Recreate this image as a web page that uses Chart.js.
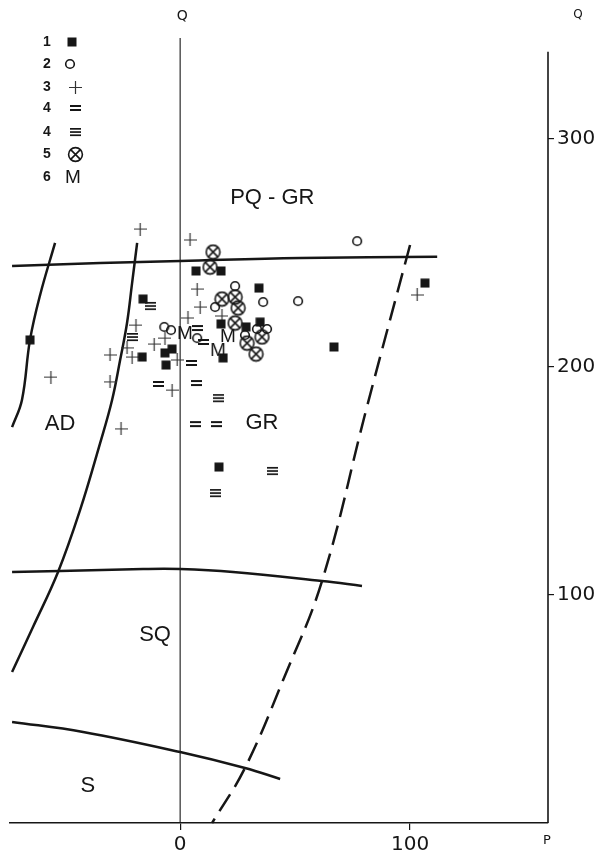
<!DOCTYPE html>
<html><head><meta charset="utf-8">
<script src="https://cdn.jsdelivr.net/npm/chart.js@4.4.1/dist/chart.umd.min.js"></script>
<style>html,body{margin:0;padding:0;background:#fff}#c{display:block}</style>
</head><body>
<canvas id="c" width="613" height="863"></canvas>
<script>
// ---- tick labels ----
const xTicks = [0, 100];
const yTicks = [100, 200, 300];

// ---- sample groups [P, Q] ----
const g1Square = [[-65.3,211.7],[-16.1,229.6],[-16.5,204.2],[-6.6,206.0],[-3.5,207.7],[-6.1,200.7],[6.9,241.9],[17.8,241.9],[34.3,234.4],[17.8,218.7],[28.7,217.4],[34.8,219.5],[18.7,203.8],[66.9,208.6],[106.5,236.6],[16.9,156.0]];
const g2Circle = [[77.0,255.0],[23.9,235.3],[36.1,228.3],[51.3,228.7],[15.2,226.1],[-6.9,217.4],[-4.0,216.0],[7.4,212.5],[33.4,216.5],[37.8,216.5],[28.2,213.8]];
const g3Plus = [[-17.4,260.3],[4.3,255.5],[7.4,234.0],[8.7,226.1],[3.4,221.3],[-19.2,218.2],[-6.6,212.5],[-11.3,209.9],[-23.1,208.2],[-30.5,205.1],[-20.9,204.2],[-1.3,202.9],[-56.2,195.4],[-30.5,193.3],[-3.5,189.7],[-25.7,172.7],[18.2,222.2],[103.1,231.4]];
const g4Double = [[7.4,216.9],[10.0,210.8],[4.8,201.6],[-9.2,192.4],[6.9,192.8],[6.5,174.8],[15.9,174.8]];
const g4Triple = [[-13.1,226.6],[-20.9,213.0],[16.5,186.2],[40.0,154.3],[15.2,144.6]];
const g5OTimes = [[14.3,250.2],[13.0,243.6],[18.2,229.6],[23.9,230.5],[25.2,225.7],[23.9,219.1],[35.6,213.0],[29.1,210.3],[33.0,205.5]];
const g6M = [[2.1,214.7],[20.8,213.4],[16.5,207.3]];

// ---- boundary curves [P, Q] ----
const curveTop = [[-73.1,244.1],[-34.8,245.4],[0,246.3],[52.2,247.6],[111.8,248.1]];
const curveLeft = [[-54.4,254.2],[-60.9,231.4],[-65.3,211.7],[-68.8,185.4],[-73.1,173.5]];
const curveMid = [[-18.7,254.2],[-20.9,236.6],[-23.1,219.1],[-26.1,202.9],[-29.6,185.4],[-34.8,166.5],[-43.5,137.2],[-53.1,110.0],[-64.0,85.9],[-73.1,66.2]];
const curveH2 = [[-73.1,110.0],[-52.2,110.4],[-16.1,111.3],[0,111.3],[23.0,110.0],[61.7,106.0],[79.1,103.9]];
const curveH3 = [[-73.1,44.3],[-42.2,39.9],[0,31.1],[28.2,24.1],[43.5,19.3]];
const curveDash = [[100.0,253.3],[80.9,181.0],[61.7,106.0],[44.8,62.7],[28.2,24.1],[13.9,0]];
const lineP0 = [[0,0],[0,344]];
const lineRight = [[160,0],[160,338]];

// ---- region labels [text, P, Q] ----
const regionLabels = [["PQ - GR",40.1,273.9],["AD",-52.2,174.8],["GR",35.6,175.2],["SQ",-10.9,82.4],["S",-40.1,16.2]];
const legendNums = ["1","2","3","4","4","5","6"];

const INK = '#161616';
function mk(w,h,draw){const c=document.createElement('canvas');c.width=w;c.height=h;const g=c.getContext('2d');g.fillStyle=INK;g.strokeStyle=INK;draw(g);return c;}
const imgSq = mk(10,10,g=>{g.fillRect(0.5,0.5,9,9);});
const imgCirc = mk(12,12,g=>{g.lineWidth=1.6;g.beginPath();g.arc(6,6,4.3,0,Math.PI*2);g.stroke();});
const imgPlus = mk(13,13,g=>{g.strokeStyle='#333';g.lineWidth=1.2;g.beginPath();g.moveTo(0,6.5);g.lineTo(13,6.5);g.moveTo(6.5,0);g.lineTo(6.5,13);g.stroke();});
const imgEq = mk(11,8,g=>{g.fillRect(0,1,11,2);g.fillRect(0,5,11,2);});
const imgTri = mk(11,10,g=>{g.fillRect(0,1,11,1.7);g.fillRect(0,4.2,11,1.7);g.fillRect(0,7.4,11,1.7);});
const imgOT = mk(17,17,g=>{g.lineWidth=1.6;g.beginPath();g.arc(8.5,8.5,6.9,0,Math.PI*2);g.stroke();g.beginPath();const d=4.6;g.moveTo(8.5-d,8.5-d);g.lineTo(8.5+d,8.5+d);g.moveTo(8.5+d,8.5-d);g.lineTo(8.5-d,8.5+d);g.stroke();});
const imgM = mk(20,18,g=>{g.font='19px "Liberation Sans", Arial, sans-serif';g.textAlign='center';g.textBaseline='middle';g.fillText('M',10,9.5);});
const legendImgs = [imgSq,imgCirc,imgPlus,imgEq,imgTri,imgOT,imgM];
const legendX = [72,70,75,75,75,75,73];
const legendY = [42,64,87,108,132,154,177];

const pts = a => a.map(p=>({x:p[0],y:p[1]}));
function markers(data,img){return {data:pts(data),pointStyle:img,pointRadius:5,pointHoverRadius:5,showLine:false};}
function curve(data,w,dash){return {data:pts(data),showLine:true,pointRadius:0,borderColor:INK,borderWidth:w,tension:0.4,borderDash:dash||[],fill:false,clip:false};}

const textPlugin = {
  id:'texts',
  afterDatasetsDraw(chart){
    const ctx=chart.ctx, xs=chart.scales.x, ys=chart.scales.y;
    ctx.save();
    ctx.fillStyle=INK;ctx.textAlign='center';ctx.textBaseline='middle';
    ctx.font='22px "Liberation Sans", Arial, sans-serif';
    regionLabels.forEach(r=>{ctx.fillText(r[0],xs.getPixelForValue(r[1]),ys.getPixelForValue(r[2]));});
    ctx.font='bold 14px "Liberation Sans", Arial, sans-serif';
    legendNums.forEach((n,i)=>{ctx.fillText(n,47,legendY[i]);});
    legendImgs.forEach((im,i)=>{ctx.drawImage(im,Math.round(legendX[i]-im.width/2),Math.round(legendY[i]-im.height/2));});
    ctx.font='14px "DejaVu Sans", sans-serif';
    ctx.fillText('Q',xs.getPixelForValue(0)+2,16);
    ctx.font='12px "DejaVu Sans", sans-serif';
    ctx.fillText('Q',578,15);
    ctx.font='13px "DejaVu Sans", sans-serif';
    ctx.fillText('P',547,841);
    ctx.restore();
  }
};

new Chart(document.getElementById('c'),{
  type:'scatter',
  data:{datasets:[
    markers(g6M,imgM),
    markers(g5OTimes,imgOT),
    markers(g1Square,imgSq),
    markers(g2Circle,imgCirc),
    markers(g3Plus,imgPlus),
    markers(g4Double,imgEq),
    markers(g4Triple,imgTri),
    curve(curveTop,2.5),
    curve(curveLeft,2.5),
    curve(curveMid,2.5),
    curve(curveH2,2.5),
    curve(curveH3,2.5),
    curve(curveDash,2.5,[20,9]),
    curve(lineP0,1.1),
    curve(lineRight,1.6)
  ]},
  options:{
    responsive:false,animation:false,
    layout:{padding:{left:10,top:38,right:0,bottom:0}},
    plugins:{legend:{display:false},tooltip:{enabled:false}},
    scales:{
      x:{type:'linear',position:'bottom',min:-74,max:160,
        afterBuildTicks:s=>{s.ticks=xTicks.map(v=>({value:v}));},
        afterFit:s=>{s.height=40;},
        ticks:{color:INK,font:{family:'DejaVu Sans',size:20},padding:3,maxRotation:0,autoSkip:false},
        grid:{drawOnChartArea:false,drawTicks:true,tickLength:7,color:INK,lineWidth:1.2},
        border:{display:true,color:INK,width:1.5}},
      y:{type:'linear',position:'right',min:0,max:344,
        afterBuildTicks:s=>{s.ticks=yTicks.map(v=>({value:v}));},
        afterFit:s=>{s.width=65;},
        ticks:{color:INK,font:{family:'DejaVu Sans',size:20},padding:3,autoSkip:false},
        grid:{drawOnChartArea:false,drawTicks:true,tickLength:6,color:INK,lineWidth:1.2},
        border:{display:false}}
    }
  },
  plugins:[textPlugin]
});
</script>
</body></html>
